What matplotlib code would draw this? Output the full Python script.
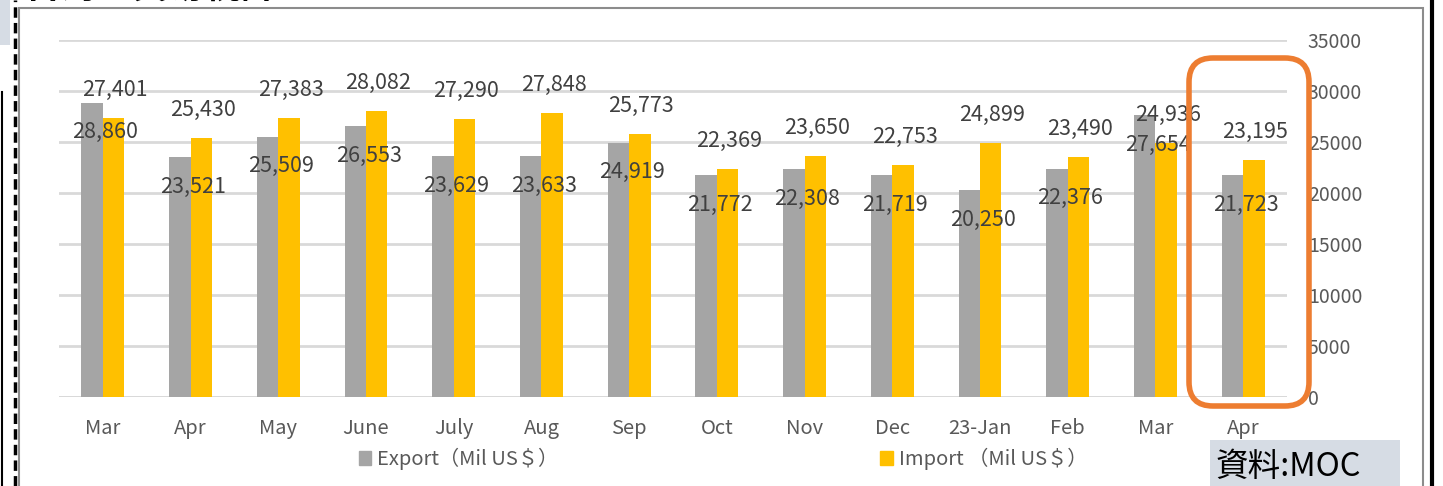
"""
貿易統計 棒グラフ（Export / Import）
"""

import matplotlib
matplotlib.use("Agg")
import matplotlib.pyplot as plt
from matplotlib.patches import Rectangle, FancyBboxPatch, Patch
from matplotlib.lines import Line2D
from matplotlib.transforms import IdentityTransform

plt.rcParams['font.family'] = ['Noto Sans CJK JP', 'DejaVu Sans']

months = ['Mar', 'Apr', 'May', 'June', 'July', 'Aug', 'Sep', 'Oct', 'Nov',
          'Dec', '23-Jan', 'Feb', 'Mar', 'Apr']
export_vals = [28860, 23521, 25509, 26553, 23629, 23633, 24919, 21772, 22308,
               21719, 20250, 22376, 27654, 21723]
import_vals = [27401, 25430, 27383, 28082, 27290, 27848, 25773, 22369, 23650,
               22753, 24899, 23490, 24936, 23195]
y_ticks = [0, 5000, 10000, 15000, 20000, 25000, 30000, 35000]

W, H = 1443, 486
fig = plt.figure(figsize=(W / 100, H / 100), dpi=100)

ax = fig.add_axes([59 / W, 89 / H, 1228 / W, 357 / H])
ax.set_zorder(2)

x = list(range(len(months)))
bw = 0.245
ax.bar([i - bw / 2 for i in x], export_vals, width=bw, color='#A5A5A5', zorder=3)
ax.bar([i + bw / 2 for i in x], import_vals, width=bw, color='#FFC000', zorder=3)

# データラベル
for i in x:
    ax.text(i + 0.03, export_vals[i] - 2900, f"{export_vals[i]:,}", ha='center', va='center',
            fontsize=15.5, color='#404040', zorder=4)
    ax.text(i + 0.14, import_vals[i] + 2750, f"{import_vals[i]:,}", ha='center', va='center',
            fontsize=15.5, color='#404040', zorder=4)

ax.set_xlim(-0.5, 13.5)
ax.set_ylim(0, 35000)
ax.set_xticks(x)
ax.set_xticklabels(months, fontsize=14.5, color='#595959')
ax.set_yticks(y_ticks)
ax.set_yticklabels([str(v) for v in y_ticks], fontsize=14, color='#595959')
ax.yaxis.tick_right()
ax.tick_params(axis='y', length=0, pad=15)
ax.tick_params(axis='x', length=0, pad=15)
ax.grid(axis='y', color='#D9D9D9', linewidth=2, zorder=0)
for s in ax.spines.values():
    s.set_visible(False)
ax.axhline(0, color='#D9D9D9', linewidth=2, zorder=1)

handles = [Patch(color='#A5A5A5', label='Export（Mil US＄）'),
           Patch(color='#FFC000', label='Import （Mil US＄）')]
fig.legend(handles=handles, ncol=2, loc='center', bbox_to_anchor=(723 / W, 27 / H),
           frameon=False, fontsize=14.5, labelcolor='#595959', handlelength=0.6,
           handleheight=0.7, handletextpad=0.3, columnspacing=16)

# 枠線など
fig.patches.append(Rectangle((19 / W, -0.1), (1423 - 19) / W, (H - 8) / H + 0.1,
                             transform=fig.transFigure, fill=False,
                             edgecolor='#8C8C8C', linewidth=1.5, zorder=1))
fig.lines.append(Line2D([15 / W, 15 / W], [0, 1], transform=fig.transFigure,
                        color='black', linewidth=2.5, linestyle=(0, (3, 1.5))))
fig.lines.append(Line2D([2 / W, 2 / W], [0, (H - 92) / H], transform=fig.transFigure,
                        color='black', linewidth=1.5))
fig.lines.append(Line2D([1432 / W, 1432 / W], [0, 1], transform=fig.transFigure,
                        color='black', linewidth=3))
fig.patches.append(Rectangle((0, (H - 45) / H), 10 / W, 45 / H, transform=fig.transFigure,
                             facecolor='#D6DCE4', edgecolor='none'))

# 切れたタイトル（上端で切れている）
fig.text(25 / W, (H + 2) / H, '台湾の貿易統計', fontsize=26, fontweight='bold',
         color='black', va='baseline', ha='left')

# 強調枠（ピクセル座標）
fig.patches.append(FancyBboxPatch((1189, 80), 120, 348,
                                  boxstyle='round,pad=0,rounding_size=24',
                                  transform=IdentityTransform(), fill=False,
                                  edgecolor='#ED7D31', linewidth=4, zorder=10))

# 資料
fig.patches.append(Rectangle((1210 / W, 0), 190 / W, 46 / H, transform=fig.transFigure,
                             facecolor='#D6DCE4', edgecolor='none', zorder=5))
fig.text(1216 / W, 19 / H, '資料:MOC', fontsize=23.5, color='black', va='center',
         ha='left', zorder=6)

fig.savefig('out.png', dpi=100)
